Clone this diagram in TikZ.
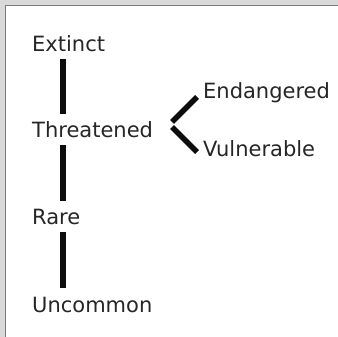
\documentclass[tikz,border=0pt]{standalone}
\usepackage{fontspec}
\setmainfont{DejaVu Sans}
\definecolor{framegray}{HTML}{D9D9D9}
\definecolor{edgegray}{HTML}{7A7A7A}
\begin{document}
\begin{tikzpicture}[x = 1pt, y = -1pt,
    lvl/.style = {anchor=base west, inner sep=0pt, text height=24pt, text depth=7pt, text=black!85, font=\fontsize{21}{24}\selectfont},
    bar/.style = {line width=5.5pt, black!95}]
    \useasboundingbox (0,0) rectangle (338,337);
    \fill[framegray] (0,0) rectangle (338,337);
    \fill[white] (5,5) rectangle (338,337);
    \draw[edgegray, line width=1.5pt] (5.5,337) -- (5.5,5.5) -- (338,5.5);
    \node[lvl] (extinct) at (32,52) {Extinct};
    \node[lvl] (threat) at (32,138) {Threatened};
    \node[lvl] (rare) at (32,225) {Rare};
    \node[lvl] (uncommon) at (32,312) {Uncommon};
    \node[lvl] (endang) at (203,99) {Endangered};
    \node[lvl] (vulner) at (203,157) {Vulnerable};
    \coordinate (fork) at (172,124.5);
    \draw[bar]
    ([xshift=31pt]extinct.south west) -- ([xshift=31pt]threat.north west)
    ([xshift=31pt]threat.south west) -- ([xshift=31pt]rare.north west)
    ([xshift=31pt]rare.south west) -- ([xshift=31pt]uncommon.north west);
    \draw[bar]
    ([shift={(-6pt,2pt)}]endang.base west) -- ([yshift=2.5pt]fork)
    ([yshift=-2.5pt]fork) -- ([shift={(-6pt,5pt)}]vulner.base west);
\end{tikzpicture}
\end{document}
